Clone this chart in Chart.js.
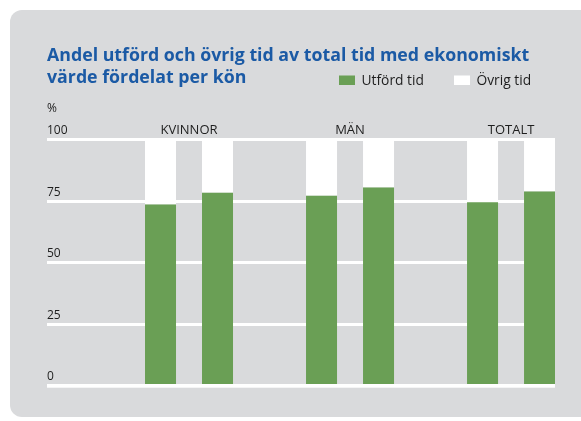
<!DOCTYPE html>
<html><head><meta charset="utf-8">
<script src="https://cdn.jsdelivr.net/npm/chart.js@4/dist/chart.umd.min.js"></script>
<style>html,body{margin:0;padding:0;background:#fff}canvas{display:block}</style>
</head><body>
<canvas id="c" width="581" height="421"></canvas>
<script>
// ---- data ----
const categories = ['KVINNOR', 'MÄN', 'TOTALT'];
const utfordFirst = [73.7, 77.3, 74.6];
const ovrigFirst = [26.3, 22.7, 25.4];
const utfordSecond = [78.5, 80.6, 79.0];
const ovrigSecond = [21.5, 19.4, 21.0];
const yTickValues = [0, 25, 50, 75, 100];
const seriesNames = ['Utförd tid', 'Övrig tid'];
const titleLines = ['Andel utförd och övrig tid av total tid med ekonomiskt', 'värde fördelat per kön'];
const unitLabel = '%';

// ---- styling ----
const GREEN = '#6a9f55', WHITE = '#ffffff', GREY = '#d9dadc', BLUE = '#1b5aa5', TEXT = '#1e1e1e';
Chart.defaults.font.family = "'Open Sans', 'Noto Sans', sans-serif";

const toPoints = arr => arr.map((v, i) => ({ x: i + 1, y: v }));

const panelPlugin = {
  id: 'panel',
  beforeDraw(chart) {
    const ctx = chart.ctx;
    ctx.save();
    ctx.fillStyle = '#ffffff';
    ctx.fillRect(0, 0, chart.width, chart.height);
    ctx.fillStyle = GREY;
    ctx.beginPath();
    ctx.roundRect(10, 10, chart.width + 20, 407, 12);
    ctx.fill();
    ctx.restore();
  }
};

const baselinePlugin = {
  id: 'baseline',
  afterDatasetsDraw(chart) {
    const { ctx, chartArea, scales } = chart;
    const y0 = scales.y.getPixelForValue(0);
    ctx.save();
    ctx.fillStyle = WHITE;
    ctx.fillRect(chartArea.left, y0 - 1.8, chartArea.right - chartArea.left, 3.7);
    ctx.restore();
  }
};

const legendPlugin = {
  id: 'customLegend',
  afterDraw(chart) {
    const ctx = chart.ctx;
    ctx.save();
    ctx.font = "13.8px 'Open Sans', sans-serif";
    ctx.textBaseline = 'alphabetic';
    const items = [
      { text: seriesNames[0], color: GREEN, x: 339 },
      { text: seriesNames[1], color: WHITE, x: 454 }
    ];
    items.forEach(it => {
      ctx.fillStyle = it.color;
      ctx.fillRect(it.x, 75.5, 16, 9.5);
      ctx.fillStyle = TEXT;
      ctx.fillText(it.text, it.x + 22.5, 85);
    });
    ctx.restore();
  }
};

new Chart(document.getElementById('c'), {
  type: 'bar',
  data: {
    datasets: [
      { label: seriesNames[0], data: toPoints(utfordFirst), backgroundColor: GREEN, stack: 'first' },
      { label: seriesNames[1], data: toPoints(ovrigFirst), backgroundColor: WHITE, stack: 'first' },
      { label: seriesNames[0], data: toPoints(utfordSecond), backgroundColor: GREEN, stack: 'second' },
      { label: seriesNames[1], data: toPoints(ovrigSecond), backgroundColor: WHITE, stack: 'second' }
    ]
  },
  options: {
    responsive: false,
    animation: false,
    events: [],
    barPercentage: 0.544,
    categoryPercentage: 0.708,
    borderWidth: 0,
    layout: { padding: { top: 0, left: 47, right: 26, bottom: 35.2 } },
    plugins: {
      legend: { display: false },
      tooltip: { enabled: false },
      title: {
        display: true, text: titleLines, align: 'start', color: BLUE,
        font: { size: 17.75, weight: 'bold', lineHeight: 1.24 },
        padding: { top: 45, bottom: 0 }
      },
      subtitle: {
        display: true, text: unitLabel, align: 'start', color: TEXT,
        font: { size: 12, lineHeight: 1.2 },
        padding: { top: 12.1, bottom: 4.7 }
      }
    },
    scales: {
      x: {
        type: 'linear', position: 'top', min: 0.118, max: 3.273, offset: false,
        grid: { display: false, drawTicks: false },
        border: { display: false },
        afterBuildTicks: s => { s.ticks = categories.map((c, i) => ({ value: i + 1 })); },
        ticks: {
          padding: 2, autoSkip: false, maxRotation: 0, color: TEXT,
          font: { size: 13 },
          callback: v => categories[v - 1] ?? ''
        }
      },
      y: {
        min: 0, max: 100, stacked: true,
        afterBuildTicks: s => { s.ticks = yTickValues.map(v => ({ value: v })); },
        grid: { color: WHITE, lineWidth: 3, drawTicks: false },
        border: { display: false },
        ticks: { mirror: true, padding: 0, labelOffset: -9, color: TEXT, font: { size: 12 } }
      }
    }
  },
  plugins: [panelPlugin, baselinePlugin, legendPlugin]
});
</script>
</body></html>
